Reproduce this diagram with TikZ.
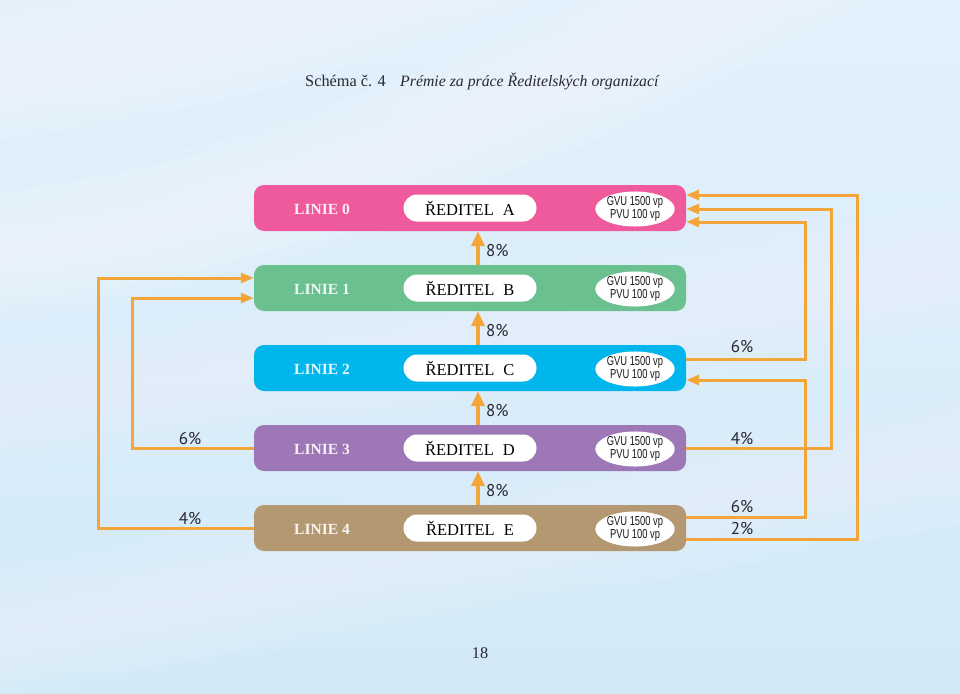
\documentclass[tikz,border=0pt]{standalone}
\usepackage{fontspec}
\setmainfont{Liberation Serif}
\newfontfamily\condsans[FakeStretch=0.72]{Liberation Sans}
\newfontfamily\pctfont{PT Sans}
\usetikzlibrary{arrows.meta,calc,shapes.geometric}
\definecolor{bgtop}{RGB}{226,241,251}
\definecolor{bgbot}{RGB}{210,233,248}
\definecolor{pinkbar}{RGB}{238,90,155}
\definecolor{greenbar}{RGB}{107,192,143}
\definecolor{cyanbar}{RGB}{0,182,237}
\definecolor{purplebar}{RGB}{158,120,182}
\definecolor{tanbar}{RGB}{180,152,114}
\definecolor{orangeln}{RGB}{243,165,58}
\definecolor{txtgray}{RGB}{40,40,48}
\tikzset{
  barbox/.style={rounded corners=10pt, minimum width=432pt, minimum height=46pt, inner sep=0pt},
  pillbox/.style={fill=white, rounded corners=13.5pt, minimum width=133pt, minimum height=27pt, inner sep=0pt,
    font=\fontsize{16.5}{18}\selectfont, text=black},
  gvbox/.style={ellipse, fill=white, minimum width=66pt, minimum height=32pt, inner sep=0pt, align=center,
    font=\condsans\fontsize{13}{13}\selectfont, text=black!90},
  linietxt/.style={font=\bfseries\fontsize{15.5}{18}\selectfont},
  pct/.style={font=\pctfont\fontsize{17}{18}\selectfont, text=txtgray, inner sep=0pt},
  conn/.style={draw=orangeln, line width=3pt, -{Triangle[length=13pt,width=10pt]}},
  upconn/.style={draw=orangeln, line width=4pt, -{Triangle[length=15pt,width=13pt]}},
  titletxt/.style={font=\fontsize{16.3}{18}\selectfont, text=txtgray, inner sep=0pt}
}
\begin{document}
\begin{tikzpicture}[x=1pt,y=-1pt]
\useasboundingbox (0,0) rectangle (960,693);
% background
\fill[top color=bgtop, bottom color=bgbot] (0,0) rectangle (960,693);
\begin{scope}
\clip (0,0) rectangle (960,693);
\foreach \w in {8,24,...,136} {
  \draw[white, opacity=0.07, line width=\w pt] (-150,90) .. controls (120,60) and (400,20) .. (800,-200);
  \draw[white, opacity=0.07, line width=\w pt] (-150,260) .. controls (100,260) and (400,200) .. (900,-100);
  \draw[white, opacity=0.05, line width=\w pt] (-150,420) .. controls (250,380) and (600,330) .. (1150,240);
  \draw[white, opacity=0.05, line width=\w pt] (-150,660) .. controls (200,600) and (500,540) .. (1150,420);
}
\end{scope}
% title
\node[titletxt, anchor=base west] (title1) at (305,86) {Schéma č. 4};
\node[titletxt, anchor=base west] (title2) at (400,86) {\fontsize{15.8}{18}\selectfont\itshape Prémie za práce Ředitelských organizací};
% bars
\foreach \i/\c/\d in {0/pinkbar/A,1/greenbar/B,2/cyanbar/C,3/purplebar/D,4/tanbar/E} {
  \node[barbox, fill=\c] (bar\i) at (470,208+80*\i) {};
  \node[linietxt, text=white!90!\c] (lin\i) at (322,209+80*\i) {LINIE \i};
  \node[pillbox] (red\i) at (470,208+80*\i) {ŘEDITEL\hspace{0.55em}\d};
  \node[gvbox] (gv\i) at (635,209+80*\i) {GVU 1500 vp\\PVU 100 vp};
}
% upward 8% arrows
\foreach \a/\b in {1/0,2/1,3/2,4/3} {
  \draw[upconn] ($(bar\a.north)+(8,0)$) -- ($(bar\b.south)+(8,0)$);
  \node[pct, anchor=west] (up\a) at (486,251+80*\b) {8\%};
}
% left connectors
\draw[conn] (bar4.west) -- ++(-155,0) |- ($(bar1.west)+(0,-10)$);
\draw[conn] (bar3.west) -- ++(-121,0) |- ($(bar1.west)+(0,10)$);
\node[pct] (l6) at (190,439) {6\%};
\node[pct] (l4) at (190,519) {4\%};
% right connectors
\draw[conn] ($(bar2.east)+(0,-9)$) -- ++(119,0) |- ($(bar0.east)+(0,14)$);
\draw[conn] (bar3.east) -- ++(145,0) |- ($(bar0.east)+(0,1)$);
\draw[conn] ($(bar4.east)+(0,-11)$) -- ++(119,0) |- ($(bar2.east)+(0,12)$);
\draw[conn] ($(bar4.east)+(0,11)$) -- ++(171,0) |- ($(bar0.east)+(0,-13)$);
\node[pct] (r6a) at (742,347) {6\%};
\node[pct] (r4) at (742,439) {4\%};
\node[pct] (r6b) at (742,507) {6\%};
\node[pct] (r2) at (742,529) {2\%};
% page number
\node[titletxt] (page) at (480,653) {18};
\end{tikzpicture}
\end{document}
